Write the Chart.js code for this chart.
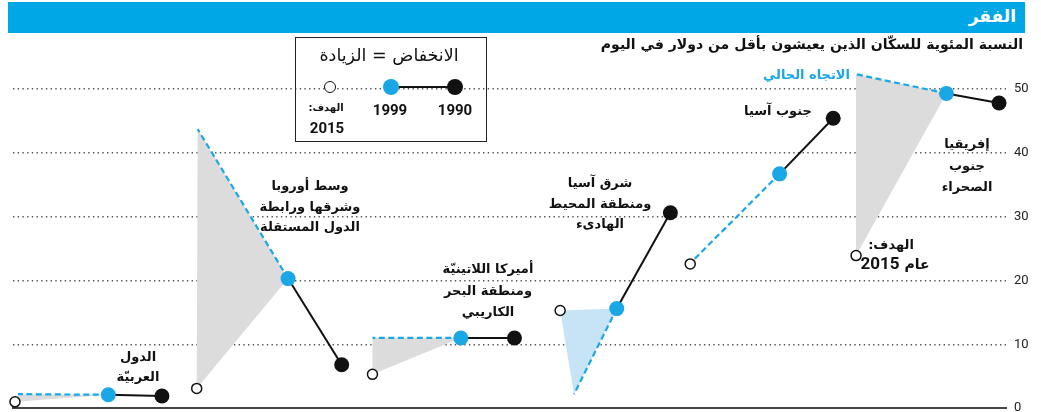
<!DOCTYPE html>
<html>
<head>
<meta charset="utf-8">
<script src="https://cdn.jsdelivr.net/npm/chart.js@4.4.1/dist/chart.umd.min.js"></script>
<style>
  body { margin: 0; background: #fff; }
  #wrap { position: relative; width: 1041px; height: 412px; overflow: hidden; font-family: "DejaVu Sans", sans-serif; color: #111; }
  #c { position: absolute; left: 0; top: 0; }
  .t { position: absolute; white-space: nowrap; }
  .lbl { position: absolute; transform: translateX(-50%); text-align: center; font-weight: bold; font-size: 13px; line-height: 20.5px; direction: rtl; white-space: nowrap; }
  .num { font-family: Roboto, "DejaVu Sans", sans-serif; font-weight: bold; }
  .dot { position: absolute; border-radius: 50%; box-sizing: border-box; }
</style>
</head>
<body>
<div id="wrap">
  <canvas id="c" width="1041" height="424"></canvas>

  <div class="t" style="left:8px;top:2px;width:1017px;height:31px;background:#00a7e7;"></div>
  <div class="t" style="right:25px;top:6px;color:#fff;font-weight:bold;font-size:17px;direction:rtl;">الفقر</div>
  <div class="t" style="right:18px;top:36px;font-weight:bold;font-size:14px;direction:rtl;">النسبة المئوية للسكّان الذين يعيشون بأقل من دولار في اليوم</div>

  <!-- legend box -->
  <div class="t" style="left:295px;top:37px;width:190px;height:103px;border:1.5px solid #222;"></div>
  <div class="t" style="left:389px;top:45px;transform:translateX(-50%);font-size:17.5px;direction:rtl;">الانخفاض = الزيادة</div>
  <div class="t" style="left:391px;top:86px;width:64px;height:2px;background:#111;"></div>
  <div class="dot" style="left:324px;top:81px;width:12px;height:12px;border:1.5px solid #111;background:#fff;"></div>
  <div class="dot" style="left:383px;top:79px;width:16px;height:16px;background:#19a7e6;"></div>
  <div class="dot" style="left:447px;top:79px;width:16px;height:16px;background:#111;"></div>
  <div class="t num" style="left:390px;top:101px;transform:translateX(-50%);font-size:15px;">1999</div>
  <div class="t num" style="left:455px;top:101px;transform:translateX(-50%);font-size:15px;">1990</div>
  <div class="t" style="left:326px;top:102px;transform:translateX(-50%);font-size:10px;font-weight:bold;direction:rtl;">الهدف:</div>
  <div class="t num" style="left:327px;top:119px;transform:translateX(-50%);font-size:15px;">2015</div>

  <!-- region labels -->
  <div class="lbl" style="left:138px;top:347px;line-height:20px;">الدول<br>العربيّة</div>
  <div class="lbl" style="left:310px;top:176px;">وسط أوروبا<br>وشرقها ورابطة<br>الدول المستقلة</div>
  <div class="lbl" style="left:488px;top:258px;line-height:21.5px;">أميركا اللاتينيّة<br>ومنطقة البحر<br>الكاريبي</div>
  <div class="lbl" style="left:600px;top:173px;">شرق آسيا<br>ومنطقة المحيط<br>الهادىء</div>
  <div class="lbl" style="left:778px;top:101px;">جنوب آسيا</div>
  <div class="lbl" style="left:967px;top:133px;line-height:21.5px;">إفريقيا<br>جنوب<br>الصحراء</div>
  <div class="lbl" style="left:891px;top:236px;font-size:13px;line-height:18px;">الهدف:</div>
  <div class="lbl" style="left:895px;top:252px;font-size:14px;line-height:22px;">عام <span class="num" style="font-size:17px;">2015</span></div>
  <div class="t" style="right:191px;top:67px;color:#19a7e6;font-weight:bold;font-size:13px;direction:rtl;">الاتجاه الحالي</div>
</div>

<script>
// regions; in the picture each one reads right to left: 1990 -> 1999 -> 2015
const regions = ['الدول العربيّة', 'وسط أوروبا وشرقها', 'أميركا اللاتينيّة', 'شرق آسيا', 'جنوب آسيا', 'إفريقيا جنوب الصحراء'];
const pct1990 = [1.9, 6.8, 11.0, 30.6, 45.4, 47.8];
const pct1999 = [2.1, 20.3, 11.0, 15.6, 36.7, 49.3];
const target2015 = [1.0, 3.1, 5.3, 15.3, 22.6, 23.9];
const trend2015 = [2.2, 43.7, 11.0, 2.2, 23.0, 52.3];
const aheadOfTarget = [false, false, false, true, false, false];
const yTicks = [0, 10, 20, 30, 40, 50];

// horizontal slots (layout only)
const slot1990 = [15.0, 33.1, 50.5, 66.2, 82.6, 99.3];
const slot1999 = [9.6, 27.7, 45.1, 60.8, 77.2, 94.0];
const slotTarget = [0.2, 18.5, 36.2, 55.1, 68.2, 84.9];
const slotTrend = [0.5, 18.6, 36.2, 56.5, 68.4, 84.9];

const blue = '#19a7e6';
const datasets = [];

regions.forEach((r, i) => {
  const p90 = {x: slot1990[i], y: pct1990[i]};
  const p99 = {x: slot1999[i], y: pct1999[i]};
  const tg = {x: slotTarget[i], y: target2015[i]};
  const tr = {x: slotTrend[i], y: trend2015[i]};

  datasets.push({
    label: r + ' gap',
    data: [tr, tg, p99, tr],
    showLine: true,
    fill: 'shape',
    backgroundColor: aheadOfTarget[i] ? '#c7e4f6' : '#dcdcdc',
    borderColor: 'rgba(0,0,0,0)',
    borderWidth: 0,
    pointRadius: 0,
    tension: 0,
    order: 5
  });
  datasets.push({
    label: r + ' trend',
    data: [p99, tr],
    showLine: true,
    borderColor: blue,
    borderWidth: 2.2,
    borderDash: [6, 3.5],
    pointRadius: 0,
    order: 4
  });
  datasets.push({
    label: r,
    data: [p90, p99],
    showLine: true,
    borderColor: '#111',
    borderWidth: 2,
    pointRadius: 0,
    order: 3
  });
});

datasets.push({
  label: '2015',
  data: slotTarget.map((x, i) => ({x, y: target2015[i]})),
  pointRadius: 5,
  pointBackgroundColor: '#fff',
  pointBorderColor: '#111',
  pointBorderWidth: 1.5,
  order: 0
});
datasets.push({
  label: '1999',
  data: slot1999.map((x, i) => ({x, y: pct1999[i]})),
  pointRadius: 7.5,
  pointBackgroundColor: blue,
  pointBorderWidth: 0,
  order: 1
});
datasets.push({
  label: '1990',
  data: slot1990.map((x, i) => ({x, y: pct1990[i]})),
  pointRadius: 7.5,
  pointBackgroundColor: '#111',
  pointBorderWidth: 0,
  order: 2
});

new Chart(document.getElementById('c'), {
  type: 'scatter',
  data: { datasets },
  options: {
    responsive: false,
    animation: false,
    clip: false,
    layout: { padding: { top: 57, left: 13, right: 0, bottom: 0 } },
    plugins: { legend: { display: false }, tooltip: { enabled: false } },
    elements: { line: { borderCapStyle: 'butt' } },
    scales: {
      x: {
        type: 'linear',
        min: 0,
        max: 100,
        ticks: { display: false },
        grid: { display: false },
        border: { display: true, color: '#444', width: 2 },
        afterFit: s => { s.height = 6; }
      },
      y: {
        position: 'right',
        min: 0,
        max: 55,
        afterBuildTicks: s => { s.ticks = yTicks.map(v => ({value: v})); },
        ticks: {
          color: '#222',
          padding: 8,
          font: { family: 'Roboto', size: 13 }
        },
        grid: {
          drawTicks: false,
          lineWidth: 1.4,
          color: ctx => ctx.tick && ctx.tick.value === 0 ? 'rgba(0,0,0,0)' : '#555'
        },
        border: { display: false, dash: [1.4, 3.3] },
        afterFit: s => { s.width = 35; }
      }
    }
  }
});
</script>
</body>
</html>
